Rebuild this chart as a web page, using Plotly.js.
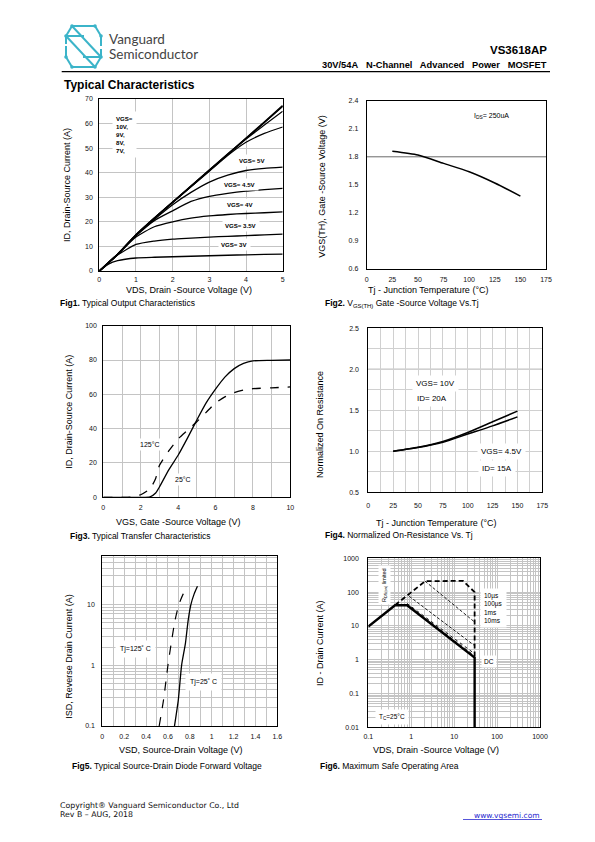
<!DOCTYPE html>
<html><head><meta charset="utf-8">
<script src="https://cdn.plot.ly/plotly-3.0.1.min.js"></script>
<style>html,body{margin:0;padding:0;background:#fff}#page{width:595px;height:842px}</style>
</head><body><div id="page"></div>
<script>
// ---------------- DATA ----------------
// Fig1 Output characteristics
const fig1Vds   = [0,0.25,0.5,1,1.5,2,2.5,3,3.5,4,4.5,5];
const fig1Id10V = [0,3.4,6.8,14.7,21.5,28,34.5,41,47.5,54,60.6,67.3];
const fig1Id9V  = [0,3.4,6.8,14.7,21.5,28,34.5,41,47.5,54,60.4,67];
const fig1Id8V  = [0,3.4,6.8,14.7,21.5,28,34.5,41,47.4,53.7,59.4,65];
const fig1Id7V  = [0,3.4,6.8,14.7,21.5,28,34.3,40.6,47,52.4,56,58.6];
const fig1Id5V  = [0,3.4,6.8,14.5,21,27,32,36.2,39,40.9,41.8,42.3];
const fig1Id45V = [0,3.4,6.8,14.3,20.5,24.5,28.3,30.4,31.6,32.5,33.1,33.6];
const fig1Id4V  = [0,3.4,6.8,13.8,18,20,21.5,22.4,23,23.4,23.7,24.1];
const fig1Id35V = [0,3.2,6.5,10.8,12.2,13,13.4,13.8,14.1,14.4,14.7,15];
const fig1Id3V  = [0,2.8,4.2,5.3,5.6,5.8,6,6.2,6.4,6.6,6.75,6.9];
// Fig2 Vth vs Tj
const fig2Tj  = [25,50,75,100,125,150];
const fig2Vth = [1.86,1.82,1.73,1.64,1.52,1.38];
// Fig3 Transfer characteristics
const fig3Vgs   = [0,1,1.5,2,2.5,2.8,3,3.5,4,4.5,5,5.5,6,6.5,7,7.5,8,9,10];
const fig3Id25  = [0,0,0,0,0.3,2.5,6,16,24.5,34.5,45,55,63,70,75,78,79.5,79.8,80];
const fig3Id125 = [0,0,0.2,1.5,5,11,18.5,27,34,39,44,49.5,55,58.5,61,62.5,63.3,63.8,64.3];
// Fig4 Normalized Rds(on) vs Tj
const fig4Tj    = [25,50,75,100,125,150];
const fig4R10V  = [1.0,1.05,1.12,1.23,1.36,1.49];
const fig4R45V  = [1.0,1.045,1.11,1.21,1.31,1.42];
// Fig5 Diode forward voltage
const fig5Isd     = [0.1,0.27,1,2.3,5.5,10,15,20];
const fig5Vsd125  = [0.52,0.56,0.60,0.63,0.665,0.70,0.74,0.78];
const fig5Vsd25   = [0.66,0.695,0.725,0.76,0.785,0.81,0.84,0.87];
// Fig6 SOA
const fig6DcV    = [0.1,0.42,0.8,30,30];
const fig6DcI    = [9.5,41,41,1.15,0.01];
const fig6RdsV   = [0.42,2.1,16,30,30];
const fig6RdsI   = [41,210,215,100,1.15];
const fig6V10us  = [2.1,30];   const fig6I10us  = [210,13];
const fig6V100us = [0.9,30];   const fig6I100us = [75,2.6];
const fig6V1ms   = [0.8,30];   const fig6I1ms   = [46,1.5];
const fig6V10ms  = [0.8,30];   const fig6I10ms  = [43,1.3];
// tick labels
const fig2YTicks = [0.6,0.9,1.2,1.5,1.8,2.1,2.4];
const fig5YTicks = [0.1,1,10];       const fig5YText = ['0.1','1','10'];
const fig6XTicks = [0.1,1,10,100,1000]; const fig6XText = ['0.1','1','10','100','1000'];
const fig6YTicks = [0.01,0.1,1,10,100,1000]; const fig6YText = ['0.01','0.1','1','10','100','1000'];

// ---------------- LAYOUT HELPERS ----------------
const W = 595, H = 842;
const px = x => x / W, py = y => 1 - y / H;
const TICKF = {family:'Liberation Sans Narrow, Arial Narrow, Liberation Sans, Arial', size:7, color:'#111'};
const GRID = '#c4c4c4';
function logMinor(d0, d1){const v=[];for(let d=d0;d<d1;d++){for(let k=2;k<=9;k++)v.push(k*Math.pow(10,d));}return v;}
function xa(l, r, y, o){return Object.assign({domain:[px(l),px(r)], anchor:y, showline:true, linecolor:'#000', linewidth:1, mirror:true,
  ticks:'', zeroline:false, showgrid:true, gridcolor:GRID, gridwidth:1, tickfont:TICKF, fixedrange:true, ticklabelstandoff:2}, o);}
function ya(b, t, x, o){return Object.assign({domain:[py(b),py(t)], anchor:x, showline:true, linecolor:'#000', linewidth:1, mirror:true,
  ticks:'', zeroline:false, showgrid:true, gridcolor:GRID, gridwidth:1, tickfont:TICKF, fixedrange:true, ticklabelstandoff:4}, o);}
function A(text, x, y, o){return Object.assign({text:text, xref:'paper', yref:'paper', x:px(x), y:py(y), showarrow:false,
  xanchor:'center', yanchor:'middle', font:{family:'Liberation Sans, Arial', size:9, color:'#000'}}, o||{});}
const TF = {family:'Liberation Sans, Arial', size:9, color:'#000'};
const CF = {family:'Liberation Sans, Arial', size:8.5, color:'#000'};
const LF = {family:'Liberation Sans Narrow, Arial Narrow, Liberation Sans, Arial', size:6.8, color:'#000'};
const LF1 = {family:'Liberation Sans Narrow, Arial Narrow, Liberation Sans, Arial', size:6.1, color:'#000'};

function ln(x, y, xa_, ya_, w, dash, shape){return {x:x, y:y, xaxis:xa_, yaxis:ya_, mode:'lines', hoverinfo:'skip',
  line:{color:'#000', width:w, dash:dash||'solid', shape:shape||'linear', smoothing:0.6}};}

// ---------------- TRACES ----------------
const traces = [
  ln(fig1Vds, fig1Id3V,  'x','y',1.3,'solid','spline'),
  ln(fig1Vds, fig1Id35V, 'x','y',1.3,'solid','spline'),
  ln(fig1Vds, fig1Id4V,  'x','y',1.3,'solid','spline'),
  ln(fig1Vds, fig1Id45V, 'x','y',1.3,'solid','spline'),
  ln(fig1Vds, fig1Id5V,  'x','y',1.3,'solid','spline'),
  ln(fig1Vds, fig1Id7V,  'x','y',1.2,'solid','spline'),
  ln(fig1Vds, fig1Id8V,  'x','y',1.2,'solid','spline'),
  ln(fig1Vds, fig1Id9V,  'x','y',1.4,'solid','spline'),
  ln(fig1Vds, fig1Id10V, 'x','y',1.8,'solid','spline'),
  ln(fig2Tj, fig2Vth, 'x2','y2',1.5,'solid','spline'),
  ln(fig3Vgs, fig3Id25,  'x3','y3',1.3,'solid','spline'),
  ln(fig3Vgs, fig3Id125, 'x3','y3',1.3,'dash','spline'),
  ln(fig4Tj, fig4R10V, 'x4','y4',1.5,'solid','spline'),
  ln(fig4Tj, fig4R45V, 'x4','y4',1.5,'solid','spline'),
  ln(fig5Vsd125, fig5Isd, 'x5','y5',1.2,'dash','spline'),
  ln(fig5Vsd25,  fig5Isd, 'x5','y5',1.3,'solid','spline'),
  ln(fig6V10us,  fig6I10us,  'x6','y6',0.9,'3px,2px'),
  ln(fig6V100us, fig6I100us, 'x6','y6',0.9,'3px,2px'),
  ln(fig6V1ms,   fig6I1ms,   'x6','y6',0.9,'dot'),
  ln(fig6V10ms,  fig6I10ms,  'x6','y6',0.9,'dot'),
  ln(fig6RdsV, fig6RdsI, 'x6','y6',1.8,'5px,3px'),
  ln(fig6DcV,  fig6DcI,  'x6','y6',2.4,'solid'),
];

// ---------------- AXES ----------------
const layout = {
  width:W, height:H, margin:{l:0,r:0,t:0,b:0}, paper_bgcolor:'#fff', plot_bgcolor:'#fff', showlegend:false,
  xaxis:  xa(99.3,282.7,'y',{range:[0,5], dtick:1, tick0:0}),
  yaxis:  ya(271,99,'x',{range:[0,70], dtick:10, tick0:0}),
  xaxis2: xa(366.7,546,'y2',{range:[0,175], dtick:25, tick0:0, showgrid:false, ticklabelstandoff:4}),
  yaxis2: ya(269,100.7,'x2',{range:[0.6,2.4], tickvals:fig2YTicks, tickformat:'.1f', showgrid:false, ticklabelstandoff:6}),
  xaxis3: xa(103.3,290.3,'y3',{range:[0,10], dtick:2, tick0:0, minor:{dtick:1, showgrid:true, gridcolor:GRID, ticklen:0}, ticklabelstandoff:3}),
  yaxis3: ya(497.3,325.7,'x3',{range:[0,100], dtick:20, tick0:0}),
  xaxis4: xa(368.3,542.3,'y4',{range:[0,175], dtick:25, tick0:0, gridcolor:'#d0d0d0', minor:{dtick:12.5, showgrid:true, gridcolor:'#d0d0d0', ticklen:0}, ticklabelstandoff:6}),
  yaxis4: ya(492.3,328.3,'x4',{range:[0.5,2.5], dtick:0.5, tick0:0.5, tickformat:'.1f', gridcolor:'#d0d0d0', minor:{dtick:0.25, showgrid:true, gridcolor:'#d0d0d0', ticklen:0}, ticklabelstandoff:7}),
  xaxis5: xa(102.3,277.3,'y5',{range:[0,1.6], dtick:0.2, tick0:0, minor:{dtick:0.1, showgrid:true, gridcolor:GRID, ticklen:0}, ticklabelstandoff:4}),
  yaxis5: ya(726,556,'x5',{type:'log', range:[-1,1.8], tickvals:fig5YTicks, ticktext:fig5YText, minor:{tickmode:'array', tickvals:logMinor(-1,2), showgrid:true, gridcolor:GRID, ticklen:0}, ticklabelstandoff:5}),
  xaxis6: xa(368.3,540,'y6',{type:'log', range:[-1,3], tickvals:fig6XTicks, ticktext:fig6XText, minor:{tickmode:'array', tickvals:logMinor(-1,3), showgrid:true, gridcolor:GRID, ticklen:0}, ticklabelstandoff:2}),
  yaxis6: ya(727.3,558.3,'x6',{type:'log', range:[-2,3], tickvals:fig6YTicks, ticktext:fig6YText, minor:{tickmode:'array', tickvals:logMinor(-2,3), showgrid:true, gridcolor:GRID, ticklen:0}, ticklabelstandoff:7}),
};

// ---------------- SHAPES ----------------
const TEAL = '#3bb4c9';
const logoSegs = [
  [72,26,95,26],[95,26,101,36],[72,26,66,36],[66,36,84,36],
  [72,26,101,57],[66,36,95,67],[83,57,101,57],[66,57,72,67],
  [101,57,95,67],[72,67,95,67],[66,46,66,57],[101,36,101,46],[66,36,66,44],[101,49,101,57]
];
const logoDots = [[72,26],[95,26],[101,36],[66,36],[66,57],[72,67],[95,67],[101,57]];
const shapes = [];
logoSegs.forEach(s=>shapes.push({type:'line', xref:'paper', yref:'paper', x0:px(s[0]), y0:py(s[1]), x1:px(s[2]), y1:py(s[3]), line:{color:TEAL, width:2}}));
logoDots.forEach(d=>shapes.push({type:'circle', xref:'paper', yref:'paper', x0:px(d[0]-1.8), x1:px(d[0]+1.8), y0:py(d[1]+1.8), y1:py(d[1]-1.8), fillcolor:TEAL, line:{width:0}}));
shapes.push({type:'line', xref:'paper', yref:'paper', x0:px(61.7), x1:px(550), y0:py(71.7), y1:py(71.7), line:{color:'#000', width:1.3}});
// reference gridlines drawn darker in the original
shapes.push({type:'line', xref:'x2 domain', yref:'y2', x0:0, x1:1, y0:1.8, y1:1.8, layer:'below', line:{color:'#6a6a6a', width:1}});
shapes.push({type:'line', xref:'x4 domain', yref:'y4', x0:0, x1:1, y0:2.0, y1:2.0, layer:'below', line:{color:'#6a6a6a', width:1}});
// link underline
shapes.push({type:'line', xref:'paper', yref:'paper', x0:px(463), x1:px(542), y0:py(819.5), y1:py(819.5), line:{color:'#2a2ad0', width:0.8}});

// ---------------- ANNOTATIONS ----------------
const NB = '\u00a0\u00a0 ';
const ann = [
  // header
  A('Vanguard', 106.5, 39.5, {xanchor:'left', font:{family:'Lato, Open Sans', size:13.5, color:'#444'}}),
  A('Semiconductor', 106.5, 53.5, {xanchor:'left', font:{family:'Lato, Open Sans', size:13.5, color:'#444'}}),
  A('<b>VS3618AP</b>', 549, 50, {xanchor:'right', font:{family:'Liberation Sans, Arial', size:11.5, color:'#000'}}),
  A('<b>30V/54A'+NB+'N-Channel'+NB+'Advanced'+NB+'Power'+NB+'MOSFET</b>', 549, 65.5, {xanchor:'right', font:{family:'Liberation Sans, Arial', size:9.3, color:'#000'}}),
  A('<b>Typical Characteristics</b>', 61.5, 85, {xanchor:'left', font:{family:'Liberation Sans, Arial', size:12, color:'#000'}}),
  // fig1
  A('ID, Drain-Source Current (A)', 67, 185, {textangle:-90, font:TF}),
  A('VDS, Drain -Source Voltage (V)', 189, 290, {font:TF}),
  A('<b>Fig1.</b> Typical Output Characteristics', 58.3, 303, {xanchor:'left', font:CF}),
  A('<b>VGS=<br>10V,<br>9V,<br>8V,<br>7V,</b>', 112, 111, {xanchor:'left', yanchor:'top', align:'left', font:{family:LF.family, size:6.1, color:'#000'}, bgcolor:'#fff', borderpad:3}),
  A('<b>VGS= 5V</b>', 252.5, 161, {font:LF1, bgcolor:'#fff', borderpad:2}),
  A('<b>VGS= 4.5V</b>', 240, 184.3, {font:LF1, bgcolor:'#fff', borderpad:2}),
  A('<b>VGS= 4V</b>', 240, 204, {font:LF1, bgcolor:'#fff', borderpad:2}),
  A('<b>VGS= 3.5V</b>', 240.5, 225, {font:LF1, bgcolor:'#fff', borderpad:2}),
  A('<b>VGS= 3V</b>', 234, 244, {font:LF1, bgcolor:'#fff', borderpad:2}),
  // fig2
  A('VGS(TH), Gate -Source Voltage (V)', 321.7, 186, {textangle:-90, font:TF}),
  A('Tj - Junction Temperature (°C)', 428, 290, {font:TF}),
  A('<b>Fig2.</b> V<sub>GS(TH)</sub> Gate -Source Voltage Vs.Tj', 323, 303, {xanchor:'left', font:CF}),
  A('I<sub>DS</sub>= 250uA', 491.7, 115.7, {font:{family:LF.family, size:7, color:'#000'}}),
  // fig3
  A('ID, Drain-Source Current (A)', 69, 411.7, {textangle:-90, font:TF}),
  A('VGS, Gate -Source Voltage (V)', 178, 521.7, {font:TF}),
  A('<b>Fig3.</b> Typical Transfer Characteristics', 67.7, 536, {xanchor:'left', font:CF}),
  A('125°C', 150, 444, {font:{family:LF.family, size:7, color:'#000'}, bgcolor:'#fff', borderpad:2}),
  A('25°C', 183, 479, {font:{family:LF.family, size:7, color:'#000'}, bgcolor:'#fff', borderpad:2}),
  // fig4
  A('Normalized On Resistance', 320, 425, {textangle:-90, font:TF}),
  A('Tj - Junction Temperature (°C)', 436, 523, {font:TF}),
  A('<b>Fig4.</b> Normalized On-Resistance Vs. Tj', 322.7, 535, {xanchor:'left', font:CF}),
  A('VGS= 10V', 411.7, 384, {xanchor:'left', font:{family:LF.family, size:8, color:'#000'}, bgcolor:'#fff', borderpad:3}),
  A('ID= 20A', 413, 398.3, {xanchor:'left', font:{family:LF.family, size:8, color:'#000'}, bgcolor:'#fff', borderpad:3}),
  A('VGS= 4.5V', 476.7, 451.7, {xanchor:'left', font:{family:LF.family, size:8, color:'#000'}, bgcolor:'#fff', borderpad:3}),
  A('ID= 15A', 478.3, 468.3, {xanchor:'left', font:{family:LF.family, size:8, color:'#000'}, bgcolor:'#fff', borderpad:3}),
  // fig5
  A('ISD, Reverse Drain Current (A)', 69, 656.7, {textangle:-90, font:TF}),
  A('VSD, Source-Drain Voltage (V)', 181, 750, {font:TF}),
  A('<b>Fig5.</b> Typical Source-Drain Diode Forward Voltage', 70, 766, {xanchor:'left', font:CF}),
  A('Tj=125\u02da C', 135, 649.3, {font:{family:LF.family, size:7, color:'#000'}, bgcolor:'#fff', borderpad:4}),
  A('Tj=25\u02da C', 203.3, 682, {font:{family:LF.family, size:7, color:'#000'}, bgcolor:'#fff', borderpad:4}),
  // fig6
  A('ID - Drain Current (A)', 320, 643, {textangle:-90, font:TF}),
  A('VDS, Drain -Source Voltage (V)', 436, 750, {font:TF}),
  A('<b>Fig6.</b> Maximum Safe Operating Area', 318.3, 766, {xanchor:'left', font:CF}),
  A('R<sub>DS(on)</sub> limited', 384, 585, {textangle:-90, font:{family:LF.family, size:5.5, color:'#000'}, bgcolor:'#fff', borderpad:2}),
  A('10µs<br>100µs<br>1ms<br>10ms', 480, 607.5, {xanchor:'left', align:'left', font:{family:LF.family, size:6.5, color:'#000'}, bgcolor:'#fff', borderpad:3}),
  A('DC', 481, 661, {xanchor:'left', font:{family:LF.family, size:6.5, color:'#000'}, bgcolor:'#fff', borderpad:2}),
  A('T<sub>C</sub>=25°C', 392, 717, {font:{family:LF.family, size:6.5, color:'#000'}, bgcolor:'#fff', borderpad:3}),
  // footer
  A('Copyright® Vanguard Semiconductor Co., Ltd', 58.3, 805, {xanchor:'left', font:{family:'DejaVu Sans', size:7.8, color:'#111'}}),
  A('Rev B – AUG, 2018', 58.3, 814.5, {xanchor:'left', font:{family:'DejaVu Sans', size:7.8, color:'#111'}}),
  A('www.vgsemi.com', 542, 815, {xanchor:'right', font:{family:'DejaVu Sans', size:7.5, color:'#2a2ad0'}}),
];
layout.shapes = shapes;
layout.annotations = ann;

Plotly.newPlot('page', traces, layout, {staticPlot:true, displayModeBar:false});
</script>
</body></html>
